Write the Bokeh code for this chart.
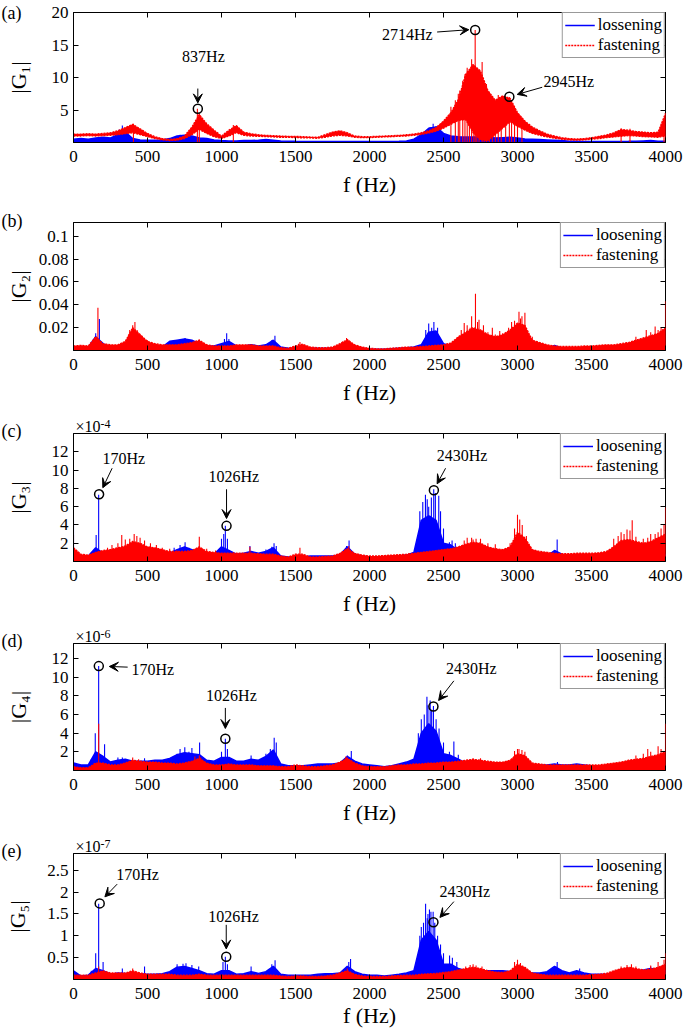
from bokeh.plotting import figure
from bokeh.layouts import column
from bokeh.models import Range1d, LinearAxis, FixedTicker, Legend, LegendItem, Label, Arrow, VeeHead, Title
from bokeh.embed import file_html
from bokeh.resources import INLINE

FONT = "Liberation Serif"
BLUE = "#0000FF"
RED = "#FF0000"

# sampling grid of the envelope readings (Hz)
freq = list(range(0, 4001, 50))
xticks = [0, 500, 1000, 1500, 2000, 2500, 3000, 3500, 4000]

# ---------------- panel (a): |G1| ----------------
a_red_hi = [1.3, 1.3, 1.35, 1.3, 1.4, 1.5, 1.8, 2.3, 2.8, 2.1,
            1.4, 0.9, 0.6, 0.45, 0.6, 1.0, 2.4, 4.3, 2.9, 1.9,
            1.0, 1.9, 2.6, 1.6, 1.35, 1.2, 1.1, 1.05, 1.0, 0.95,
            0.95, 0.9, 0.85, 0.8, 1.2, 1.6, 1.8, 1.5, 1.0, 0.9,
            0.9, 0.95, 1.0, 1.05, 1.1, 1.2, 1.3, 1.5, 1.8, 2.3,
            3.3, 4.6, 6.6, 10.5, 12.0, 11.0, 8.0, 6.5, 7.2, 6.8,
            4.6, 3.3, 2.4, 1.8, 1.3, 1.0, 0.75, 0.6, 0.55, 0.6,
            0.75, 0.95, 1.15, 1.5, 2.0, 1.9, 1.7, 1.6, 1.5, 1.6, 4.5]
a_red_lo = [1.0, 1.0, 1.05, 1.0, 1.05, 1.1, 1.2, 1.35, 1.5, 1.2,
            0.9, 0.6, 0.4, 0.3, 0.35, 0.6, 1.2, 2.0, 1.4, 0.9,
            0.6, 1.0, 1.5, 1.1, 1.0, 0.95, 0.9, 0.85, 0.8, 0.8,
            0.75, 0.72, 0.7, 0.65, 0.8, 1.0, 1.1, 1.0, 0.8, 0.75,
            0.75, 0.8, 0.85, 0.9, 0.95, 1.0, 1.1, 1.25, 1.45, 1.75,
            2.2, 2.8, 3.4, 3.5, 1.5, 0.4, 0.3, 1.2, 2.2, 3.2,
            2.5, 1.9, 1.4, 1.1, 0.85, 0.65, 0.5, 0.4, 0.35, 0.4,
            0.5, 0.6, 0.75, 0.85, 0.95, 1.05, 1.0, 0.9, 0.85, 0.8, 1.0]
a_blue_hi = [0.5, 0.6, 0.5, 0.7, 0.8, 0.7, 1.2, 1.6, 0.6, 0.4,
             0.35, 0.35, 0.4, 0.6, 1.0, 1.1, 1.0, 0.7, 0.6, 0.4,
             0.3, 0.25, 0.25, 0.3, 0.3, 0.35, 0.45, 0.35, 0.25, 0.2,
             0.18, 0.17, 0.17, 0.16, 0.16, 0.16, 0.16, 0.16, 0.16, 0.15,
             0.15, 0.15, 0.16, 0.17, 0.2, 0.25, 0.5, 1.2, 2.2, 2.4,
             1.4, 1.0, 0.9, 0.85, 0.85, 0.85, 0.8, 0.7, 0.75, 0.8,
             0.7, 0.55, 0.5, 0.45, 0.4, 0.35, 0.3, 0.2, 0.18, 0.16,
             0.15, 0.15, 0.15, 0.16, 0.17, 0.18, 0.2, 0.25, 0.3, 0.2, 0.2]
a_red_spk_f = [405, 837, 850, 1080, 2550, 2580, 2600, 2610, 2630, 2645, 2660, 2675, 2690, 2705, 2714,
               2725, 2740, 2761, 2775, 2790, 2810, 2830, 2850, 2870, 2890, 2920, 2945, 2960, 2980,
               3000, 3030, 3700, 3760, 3990, 4000]
a_red_spk_v = [2.9, 5.2, 4.5, 2.7, 5.5, 6.5, 7.5, 8.0, 9.5, 10.5, 11.5, 10.0, 12.8, 11.0, 17.3,
               9.5, 10.0, 12.4, 7.5, 9.0, 6.5, 5.5, 6.0, 7.3, 6.0, 6.5, 7.0, 6.2, 5.5,
               4.5, 3.8, 2.2, 2.1, 3.0, 4.5]
a_blue_spk_f = [310, 330, 720, 760, 2410, 2430, 2450]
a_blue_spk_v = [2.0, 2.6, 1.2, 1.2, 2.4, 2.9, 2.5]

# ---------------- panel (b): |G2| ----------------
b_red_hi = [0.004, 0.0045, 0.004, 0.012, 0.006, 0.005, 0.005, 0.008, 0.02, 0.014,
            0.008, 0.006, 0.005, 0.005, 0.005, 0.006, 0.007, 0.009, 0.005, 0.004,
            0.004, 0.004, 0.005, 0.005, 0.005, 0.004, 0.004, 0.004, 0.0025, 0.002,
            0.004, 0.0055, 0.003, 0.0025, 0.0025, 0.003, 0.006, 0.0095, 0.005, 0.003,
            0.002, 0.0015, 0.0015, 0.002, 0.0025, 0.003, 0.003, 0.0035, 0.004, 0.0045,
            0.005, 0.0065, 0.012, 0.016, 0.02, 0.018, 0.014, 0.012, 0.014, 0.018,
            0.024, 0.022, 0.009, 0.007, 0.005, 0.004, 0.0035, 0.0035, 0.0035, 0.004,
            0.004, 0.0045, 0.005, 0.005, 0.006, 0.007, 0.009, 0.011, 0.013, 0.015, 0.02]
b_blue_hi = [0.002, 0.002, 0.003, 0.012, 0.006, 0.003, 0.003, 0.003, 0.003, 0.003,
             0.003, 0.003, 0.003, 0.008, 0.009, 0.01, 0.009, 0.006, 0.004, 0.004,
             0.006, 0.008, 0.004, 0.004, 0.005, 0.004, 0.005, 0.009, 0.003, 0.002,
             0.002, 0.002, 0.002, 0.002, 0.002, 0.002, 0.002, 0.003, 0.002, 0.002,
             0.001, 0.001, 0.001, 0.0015, 0.002, 0.0025, 0.003, 0.005, 0.016, 0.017,
             0.006, 0.004, 0.002, 0.0015, 0.0015, 0.0015, 0.0015, 0.0015, 0.0015, 0.0015,
             0.0015, 0.0015, 0.0015, 0.0015, 0.0015, 0.0045, 0.002, 0.0015, 0.0015, 0.0015,
             0.0015, 0.0015, 0.0015, 0.0015, 0.0015, 0.0015, 0.0015, 0.0015, 0.0015, 0.0015, 0.0015]
b_red_spk_f = [165, 380, 400, 415, 430, 460, 500, 820, 850, 880, 1520, 1530, 1820, 1845, 1860,
               2620, 2640, 2660, 2680, 2690, 2716, 2730, 2740, 2760, 2770, 2800, 2830, 2850, 2880,
               2900, 2940, 2960, 2980, 3010, 3020, 3030, 3050, 3060, 3100, 3800, 3870, 3900, 3930,
               3950, 3970, 4000]
b_red_spk_v = [0.0375, 0.018, 0.022, 0.025, 0.018, 0.012, 0.009, 0.008, 0.0097, 0.007, 0.006, 0.0074,
               0.008, 0.011, 0.009,
               0.018, 0.024, 0.022, 0.02, 0.03, 0.0496, 0.025, 0.027, 0.018, 0.022, 0.016, 0.02,
               0.014, 0.017, 0.015, 0.02, 0.025, 0.026, 0.034, 0.028, 0.03, 0.033, 0.018, 0.012,
               0.012, 0.018, 0.016, 0.021, 0.018, 0.02, 0.043]
b_blue_spk_f = [150, 175, 700, 730, 754, 780, 810, 1020, 1035, 1050, 1340, 1361, 2380, 2400, 2420,
                2435, 2445, 2460, 2470]
b_blue_spk_v = [0.015, 0.0275, 0.009, 0.01, 0.011, 0.009, 0.008, 0.01, 0.015, 0.01, 0.009, 0.013,
                0.018, 0.0236, 0.02, 0.025, 0.016, 0.02, 0.012]

# ---------------- panel (c): |G3|, in units of 1e-4 ----------------
c_red_hi = [1.5, 0.8, 0.7, 1.0, 1.2, 1.3, 1.5, 1.7, 2.2, 2.0,
            1.6, 1.5, 1.3, 1.1, 1.1, 1.1, 1.2, 1.6, 1.1, 1.0,
            0.9, 0.9, 0.9, 0.9, 0.9, 0.85, 0.8, 0.8, 0.6, 0.5,
            0.8, 0.8, 0.5, 0.5, 0.55, 0.6, 0.9, 1.4, 0.9, 0.7,
            0.6, 0.6, 0.65, 0.7, 0.75, 0.8, 0.9, 1.0, 1.1, 1.2,
            1.3, 1.4, 1.6, 1.9, 2.1, 2.0, 1.6, 1.4, 1.3, 1.6,
            3.2, 2.6, 1.3, 1.1, 1.0, 0.9, 0.85, 0.85, 0.9, 0.9,
            0.9, 0.95, 1.1, 1.6, 2.3, 2.4, 2.2, 2.0, 2.2, 2.6, 3.0]
c_blue_hi = [1.2, 0.6, 0.6, 1.5, 0.9, 0.6, 0.6, 0.6, 0.6, 0.6,
             0.6, 0.6, 0.7, 0.9, 1.3, 1.6, 1.3, 0.9, 0.8, 0.8,
             1.6, 1.2, 0.8, 0.9, 1.1, 0.9, 1.1, 1.5, 0.6, 0.5,
             0.5, 0.5, 0.6, 0.6, 0.6, 0.6, 0.7, 1.6, 0.8, 0.6,
             0.5, 0.5, 0.5, 0.5, 0.6, 0.7, 1.0, 4.5, 5.0, 4.5,
             2.0, 1.8, 1.2, 0.6, 0.5, 0.5, 0.5, 0.5, 0.5, 0.5,
             0.5, 0.5, 0.5, 0.5, 0.6, 1.2, 0.8, 0.6, 0.6, 0.6,
             0.5, 0.5, 0.5, 0.5, 0.5, 0.5, 0.5, 0.5, 0.5, 0.5, 0.8]
c_red_spk_f = [0, 230, 260, 300, 326, 350, 380, 410, 428, 450, 480, 520, 560, 600, 650, 700, 850, 900,
               960, 1080, 1192, 1530, 1860, 2640, 2660, 2690, 2700, 2720, 2750, 2800, 2850, 2950,
               2980, 3000, 3015, 3032, 3060, 3650, 3680, 3700, 3720, 3740, 3760, 3775, 3800, 3850,
               3880, 3900, 3930, 3950, 3970, 3990, 4000]
c_red_spk_v = [2.9, 1.5, 1.8, 2.0, 2.9, 2.4, 2.5, 3.0, 2.8, 2.6, 2.3, 2.0, 1.8, 1.5, 1.4, 1.2, 2.7, 1.4,
               1.2, 1.0, 1.6, 1.5, 1.7, 2.3, 2.6, 2.6, 2.4, 2.5, 2.5, 2.0, 1.9, 2.0,
               3.6, 5.1, 4.6, 4.0, 2.8, 2.5, 2.8, 3.2, 3.0, 3.5, 3.4, 4.5, 2.7, 2.5,
               2.6, 3.0, 3.0, 3.2, 3.6, 4.0, 5.9]
c_blue_spk_f = [0, 153, 170, 680, 720, 754, 780, 1000, 1015, 1026, 1040, 1192, 1300, 1340, 1355, 1370,
                1845, 1862, 2340, 2360, 2378, 2390, 2400, 2410, 2418, 2434, 2445, 2468, 2480, 2500,
                2540, 2558, 2580, 3268]
c_blue_spk_v = [4.6, 2.9, 7.3, 1.5, 1.8, 2.1, 1.5, 2.5, 3.0, 3.9, 2.5, 1.7, 1.3, 1.6, 2.0, 1.7,
                1.7, 2.3, 5.5, 6.5, 7.3, 6.8, 6.0, 5.0, 7.0, 7.9, 7.5, 7.2, 5.5, 3.6,
                2.1, 2.3, 2.0, 2.4]

# ---------------- panel (d): |G4|, in units of 1e-6 ----------------
d_red_hi = [0.4, 0.3, 0.3, 0.8, 0.8, 0.6, 0.6, 0.8, 1.1, 1.0,
            0.9, 0.9, 0.8, 0.8, 0.7, 0.8, 1.0, 1.3, 0.8, 0.6,
            0.6, 0.7, 0.6, 0.6, 0.6, 0.5, 0.5, 0.5, 0.4, 0.4,
            0.6, 0.5, 0.4, 0.4, 0.5, 0.6, 0.9, 1.3, 0.8, 0.5,
            0.4, 0.4, 0.4, 0.5, 0.6, 0.6, 0.7, 0.7, 0.8, 0.8,
            0.9, 0.9, 1.0, 1.1, 1.2, 1.1, 1.0, 0.9, 0.9, 1.1,
            1.8, 1.6, 0.8, 0.7, 0.6, 0.6, 0.6, 0.6, 0.6, 0.6,
            0.6, 0.6, 0.7, 0.8, 0.9, 1.1, 1.2, 1.3, 1.5, 1.7, 2.0]
d_blue_hi = [0.8, 0.6, 0.6, 2.0, 1.5, 0.9, 1.1, 1.2, 1.0, 1.0,
             1.0, 1.1, 1.1, 1.3, 1.7, 1.9, 1.8, 1.7, 1.1, 1.0,
             1.4, 1.4, 1.0, 1.0, 1.2, 1.1, 1.5, 2.2, 0.7, 0.5,
             0.5, 0.5, 0.6, 0.7, 0.7, 0.7, 0.8, 1.5, 1.0, 0.7,
             0.6, 0.5, 0.4, 0.5, 0.7, 0.9, 1.2, 4.0, 5.0, 4.2,
             1.8, 1.6, 1.2, 0.8, 0.6, 0.6, 0.6, 0.6, 0.6, 0.6,
             0.6, 0.6, 0.6, 0.6, 0.6, 0.7, 0.6, 0.6, 0.7, 0.6,
             0.5, 0.5, 0.5, 0.5, 0.5, 0.5, 0.5, 0.5, 0.5, 0.5, 0.5]
d_red_spk_f = [170, 400, 440, 820, 850, 860, 1840, 1850, 2700, 2750, 2980, 3000, 3010, 3030, 3050,
               3800, 3850, 3880, 3900, 3950, 3970, 4000]
d_red_spk_v = [5.0, 1.4, 1.2, 1.5, 1.6, 1.4, 1.5, 1.4, 1.3, 1.3, 2.1, 2.3, 2.3, 2.2, 2.0,
               1.6, 1.8, 2.3, 2.0, 2.6, 2.3, 5.0]
d_blue_spk_f = [0, 120, 147, 170, 210, 300, 330, 480, 700, 720, 752, 780, 800, 852, 1000, 1026, 1040,
                1200, 1300, 1330, 1356, 1370, 1850, 1877, 2330, 2350, 2370, 2388, 2395, 2410, 2420,
                2432, 2450, 2470, 2500, 2540, 2570, 2600, 3270]
d_blue_spk_v = [2.3, 1.2, 4.0, 11.2, 2.8, 1.4, 1.4, 1.3, 1.8, 2.3, 2.5, 2.0, 2.4, 3.0, 2.0, 3.4, 2.3,
                1.6, 1.8, 2.3, 3.5, 3.0, 1.6, 2.1, 4.0, 5.5, 6.0, 7.9, 7.0, 7.5, 6.5,
                6.9, 5.5, 4.5, 3.0, 2.0, 3.1, 1.7, 0.9]

# ---------------- panel (e): |G5|, in units of 1e-7 ----------------
e_red_hi = [0.1, 0.1, 0.1, 0.15, 0.2, 0.15, 0.15, 0.15, 0.2, 0.15,
            0.12, 0.12, 0.12, 0.12, 0.1, 0.1, 0.1, 0.12, 0.1, 0.1,
            0.1, 0.1, 0.1, 0.1, 0.1, 0.1, 0.1, 0.1, 0.08, 0.07,
            0.08, 0.08, 0.07, 0.07, 0.08, 0.1, 0.15, 0.2, 0.12, 0.08,
            0.07, 0.07, 0.07, 0.08, 0.09, 0.1, 0.1, 0.12, 0.13, 0.14,
            0.16, 0.18, 0.22, 0.25, 0.28, 0.25, 0.2, 0.17, 0.16, 0.2,
            0.35, 0.28, 0.15, 0.12, 0.1, 0.1, 0.1, 0.1, 0.1, 0.1,
            0.11, 0.12, 0.14, 0.2, 0.25, 0.28, 0.25, 0.22, 0.24, 0.28, 0.35]
e_blue_hi = [0.2, 0.08, 0.1, 0.25, 0.2, 0.12, 0.15, 0.14, 0.13, 0.13,
             0.12, 0.12, 0.13, 0.18, 0.28, 0.3, 0.25, 0.2, 0.13, 0.12,
             0.2, 0.2, 0.12, 0.13, 0.18, 0.14, 0.18, 0.3, 0.12, 0.1,
             0.1, 0.1, 0.1, 0.12, 0.13, 0.13, 0.15, 0.3, 0.18, 0.12,
             0.1, 0.1, 0.08, 0.1, 0.12, 0.15, 0.2, 0.9, 1.1, 0.9,
             0.35, 0.35, 0.25, 0.2, 0.2, 0.2, 0.2, 0.2, 0.2, 0.18,
             0.15, 0.15, 0.15, 0.15, 0.18, 0.3, 0.2, 0.15, 0.2, 0.15,
             0.12, 0.12, 0.12, 0.13, 0.15, 0.18, 0.2, 0.22, 0.25, 0.22, 0.2]
e_red_spk_f = [170, 400, 1850, 2650, 2680, 2700, 2720, 2760, 2980, 3000, 3020, 3700, 3740, 3770, 3800,
               3900, 3950, 3990, 4000]
e_red_spk_v = [0.3, 0.25, 0.25, 0.3, 0.33, 0.35, 0.32, 0.3, 0.4, 0.45, 0.38, 0.3, 0.33, 0.35, 0.3,
               0.32, 0.4, 0.45, 0.6]
e_blue_spk_f = [0, 120, 150, 170, 200, 330, 480, 700, 740, 760, 800, 846, 1010, 1026, 1040, 1200, 1340,
                1362, 1860, 1872, 2340, 2350, 2365, 2379, 2390, 2395, 2405, 2415, 2430, 2441, 2460,
                2480, 2500, 2541, 2560, 2590, 3260, 3268, 3420, 3900]
e_blue_spk_v = [1.15, 0.2, 0.6, 1.73, 0.4, 0.25, 0.3, 0.35, 0.36, 0.37, 0.33, 0.3, 0.4, 0.52, 0.35, 0.3,
                0.35, 0.44, 0.4, 0.47, 1.0, 1.2, 1.3, 1.73, 1.4, 1.5, 1.6, 1.55, 1.55, 1.3, 1.0,
                0.8, 0.6, 0.55, 0.5, 0.4, 0.3, 0.4, 0.25, 0.3]

# marked peaks (circles)
a_mark_f, a_mark_v = [840, 2714, 2945], [5.2, 17.3, 7.05]
c_mark_f, c_mark_v = [173, 1034, 2435], [7.35, 3.9, 7.8]
d_mark_f, d_mark_v = [171, 1026, 2432], [11.18, 3.4, 6.86]
e_mark_f, e_mark_v = [177, 1032, 2432], [1.74, 0.52, 1.31]

for arr in [a_red_hi, a_red_lo, a_blue_hi, b_red_hi, b_blue_hi, c_red_hi, c_blue_hi,
            d_red_hi, d_blue_hi, e_red_hi, e_blue_hi]:
    assert len(arr) == len(freq), len(arr)
for fs, vs in [(a_red_spk_f, a_red_spk_v), (a_blue_spk_f, a_blue_spk_v), (b_red_spk_f, b_red_spk_v),
               (b_blue_spk_f, b_blue_spk_v), (c_red_spk_f, c_red_spk_v), (c_blue_spk_f, c_blue_spk_v),
               (d_red_spk_f, d_red_spk_v), (d_blue_spk_f, d_blue_spk_v), (e_red_spk_f, e_red_spk_v),
               (e_blue_spk_f, e_blue_spk_v)]:
    assert len(fs) == len(vs), (len(fs), len(vs))

panels = [
    dict(letter="(a)", ylabel="|G\u2081|", ymax=20.0, yticks=[5, 10, 15, 20], overrides={},
         exp=None, blue_name="lossening", T=12, H=130, B=58, ystand=18, xstand=7, letter_h=0,
         blue_hi=a_blue_hi, red_hi=a_red_hi, red_lo=a_red_lo,
         bsf=a_blue_spk_f, bsv=a_blue_spk_v, rsf=a_red_spk_f, rsv=a_red_spk_v,
         mf=a_mark_f, mv=a_mark_v,
         texts=[("837Hz", 878, 13.2), ("2714Hz", 2255, 16.6), ("2945Hz", 3347, 9.4)],
         arrows=[(840, 8.3, 840, 6.1), (2457, 17.0, 2671, 17.35), (3167, 8.5, 2998, 7.4)]),
    dict(letter="(b)", ylabel="|G\u2082|", ymax=0.112, yticks=[0.02, 0.04, 0.06, 0.08, 0.1],
         overrides={0.02: "0.02", 0.04: "0.04", 0.06: "0.06", 0.08: "0.08", 0.1: "0.1"},
         exp=None, blue_name="loosening", T=22, H=128, B=57, ystand=5, xstand=7, letter_h=4,
         blue_hi=b_blue_hi, red_hi=b_red_hi, red_lo=None,
         bsf=b_blue_spk_f, bsv=b_blue_spk_v, rsf=b_red_spk_f, rsv=b_red_spk_v,
         mf=[], mv=[], texts=[], arrows=[]),
    dict(letter="(c)", ylabel="|G\u2083|", ymax=14.0, yticks=[2, 4, 6, 8, 10, 12], overrides={},
         exp="-4", blue_name="loosening", T=26, H=128, B=57, ystand=18, xstand=7, letter_h=6,
         blue_hi=c_blue_hi, red_hi=c_red_hi, red_lo=None,
         bsf=c_blue_spk_f, bsv=c_blue_spk_v, rsf=c_red_spk_f, rsv=c_red_spk_v,
         mf=c_mark_f, mv=c_mark_v,
         texts=[("170Hz", 340, 11.3), ("1026Hz", 1083, 9.35), ("2430Hz", 2626, 11.6)],
         arrows=[(261, 10.2, 198, 8.07), (1034, 7.9, 1034, 4.7), (2514, 10.2, 2457, 8.5)]),
    dict(letter="(d)", ylabel="|G\u2084|", ymax=13.6, yticks=[2, 4, 6, 8, 10, 12], overrides={},
         exp="-6", blue_name="loosening", T=25, H=127, B=57, ystand=18, xstand=7, letter_h=6,
         blue_hi=d_blue_hi, red_hi=d_red_hi, red_lo=None,
         bsf=d_blue_spk_f, bsv=d_blue_spk_v, rsf=d_red_spk_f, rsv=d_red_spk_v,
         mf=d_mark_f, mv=d_mark_v,
         texts=[("170Hz", 536, 10.8), ("1026Hz", 1067, 8.0), ("2430Hz", 2688, 10.9)],
         arrows=[(366, 11.07, 242, 11.14), (1026, 6.7, 1026, 4.5), (2570, 9.6, 2467, 7.5)]),
    dict(letter="(e)", ylabel="|G\u2085|", ymax=2.88, yticks=[0.5, 1, 1.5, 2, 2.5],
         overrides={1: "1", 2: "2"},
         exp="-7", blue_name="loosening", T=26, H=126, B=51, ystand=14, xstand=1, letter_h=6,
         blue_hi=e_blue_hi, red_hi=e_red_hi, red_lo=None,
         bsf=e_blue_spk_f, bsv=e_blue_spk_v, rsf=e_red_spk_f, rsv=e_red_spk_v,
         mf=e_mark_f, mv=e_mark_v,
         texts=[("170Hz", 433, 2.41), ("1026Hz", 1082, 1.44), ("2430Hz", 2644, 2.02)],
         arrows=[(295, 2.18, 212, 1.89), (1032, 1.25, 1032, 0.70), (2570, 1.78, 2476, 1.42)]),
]

LEFT, RIGHT, FW = 73, 20, 592
TH = {18: 21, 16: 18, 12: 14}   # approx. text box heights used to size the header titles


def header(p, text, size, offset, band):
    """Text placed in the band above the frame."""
    t = Title(text=text, align="left", offset=offset, vertical_align="middle",
              text_font=FONT, text_font_size=f"{size}px", text_font_style="normal",
              text_color="black", standoff=band - 2 - TH[size])
    p.add_layout(t, "above")


figs = []
for cfg in panels:
    H, ymax = cfg["H"], cfg["ymax"]
    p = figure(width=LEFT + FW + RIGHT, height=cfg["T"] + H + cfg["B"],
               x_range=Range1d(0, 4000), y_range=Range1d(0, ymax),
               output_backend="svg", toolbar_location=None,
               min_border_left=LEFT, min_border_right=RIGHT,
               min_border_top=cfg["T"], min_border_bottom=cfg["B"])
    p.grid.visible = False
    p.outline_line_color = "black"
    p.outline_line_width = 1
    p.background_fill_color = "white"
    p.border_fill_color = "white"

    xa = p.xaxis[0]
    xa.ticker = FixedTicker(ticks=xticks)
    xa.axis_label = "f (Hz)"
    ya = p.yaxis[0]
    ya.ticker = FixedTicker(ticks=cfg["yticks"])
    ya.major_label_overrides = cfg["overrides"]
    ya.axis_label = cfg["ylabel"]
    for ax, st in ((xa, cfg["xstand"]), (ya, cfg["ystand"])):
        ax.major_tick_in = 5
        ax.major_tick_out = 0
        ax.minor_tick_line_color = None
        ax.axis_line_color = "black"
        ax.major_label_text_font = FONT
        ax.major_label_text_font_size = "17px"
        ax.major_label_text_color = "black"
        ax.axis_label_text_font = FONT
        ax.axis_label_text_font_size = "22px"
        ax.axis_label_text_font_style = "normal"
        ax.axis_label_text_color = "black"
        ax.axis_label_standoff = st
    xa.major_label_standoff = 8
    ya.major_label_standoff = 5

    # mirrored ticks on top and right (box style)
    for side, tk in (("above", xticks), ("right", cfg["yticks"])):
        ax2 = LinearAxis(ticker=FixedTicker(ticks=tk), major_tick_in=5, major_tick_out=0,
                         minor_tick_line_color=None, axis_line_color=None,
                         major_label_text_font_size="0px", major_label_standoff=0,
                         major_label_overrides={t: "" for t in tk})
        p.add_layout(ax2, side)

    # panel letter and exponent, in the band above the frame
    header(p, cfg["letter"], 18, -(LEFT - 1), cfg["letter_h"])
    if cfg["exp"]:
        header(p, "\u00d710", 16, 2, 6)
        header(p, cfg["exp"], 12, 27, 6)

    # loosening (blue)
    zeros = [0.0] * len(freq)
    p.varea(x=freq, y1=zeros, y2=cfg["blue_hi"], fill_color=BLUE)
    lb = p.line(freq, cfg["blue_hi"], line_color=BLUE, line_width=1.5)
    p.segment(x0=cfg["bsf"], y0=[0.0] * len(cfg["bsf"]), x1=cfg["bsf"], y1=cfg["bsv"],
              line_color=BLUE, line_width=1.1)
    # fastening (red)
    lo = cfg["red_lo"] if cfg["red_lo"] is not None else zeros
    p.varea(x=freq, y1=lo, y2=cfg["red_hi"], fill_color=RED)
    lr = p.line(freq, cfg["red_hi"], line_color=RED, line_width=1.3, line_dash="2 1")
    if cfg["red_lo"] is not None:
        p.line(freq, lo, line_color=RED, line_width=1.3, line_dash="2 1")
    p.segment(x0=cfg["rsf"], y0=[0.0] * len(cfg["rsf"]), x1=cfg["rsf"], y1=cfg["rsv"],
              line_color=RED, line_width=1.1)

    leg = Legend(items=[LegendItem(label=cfg["blue_name"], renderers=[lb]),
                        LegendItem(label="fastening", renderers=[lr])],
                 location="top_right", margin=0, padding=2, spacing=0,
                 label_text_font=FONT, label_text_font_size="17px", label_text_color="black",
                 label_height=20, glyph_height=20, glyph_width=30, label_standoff=3,
                 border_line_color="#333333", border_line_width=1,
                 background_fill_color="white", background_fill_alpha=1)
    p.add_layout(leg)

    # peak markers, arrows and texts
    if cfg["mf"]:
        p.scatter(cfg["mf"], cfg["mv"], marker="circle", size=9, fill_color=None,
                  line_color="black", line_width=1.5)
    for (x0, y0, x1, y1) in cfg["arrows"]:
        p.add_layout(Arrow(end=VeeHead(size=9, fill_color="black", line_color="black", line_width=1),
                           x_start=x0, y_start=y0, x_end=x1, y_end=y1,
                           line_color="black", line_width=1))
    for (t, x, y) in cfg["texts"]:
        p.add_layout(Label(x=x, y=y, text=t, text_align="center", text_baseline="middle",
                           text_font=FONT, text_font_size="16px", text_color="black"))
    figs.append(p)

layout = column(*figs, spacing=0)
open("out.html", "w").write(file_html(layout, INLINE))
